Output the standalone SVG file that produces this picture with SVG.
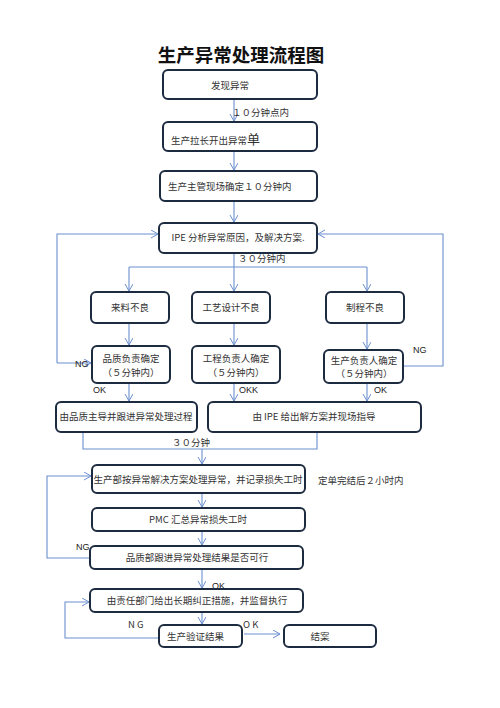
<svg xmlns="http://www.w3.org/2000/svg" width="500" height="708" viewBox="0 0 500 708">
<defs>
<marker id="ar" markerWidth="10" markerHeight="10" refX="7" refY="4" orient="auto" markerUnits="userSpaceOnUse">
<path d="M0,0 L7,4 L0,8" fill="none" stroke="#6b8fcf" stroke-width="1"/>
</marker>
<style>
.b{fill:#fff;stroke:#1d2b40;stroke-width:2}
.c{fill:none;stroke:#6b8fcf;stroke-width:1.1}
.a{marker-end:url(#ar)}
.t{font-family:"Noto Sans CJK SC","Liberation Sans",sans-serif;font-size:9.5px;fill:#333}
.m{text-anchor:middle}
.s{font-family:"Liberation Sans","Noto Sans CJK SC",sans-serif;font-size:9px;fill:#222}
</style>
</defs>
<rect width="500" height="708" fill="#fff"/>
<text x="241" y="62" font-family="Noto Sans CJK SC,sans-serif" font-size="18.5" font-weight="bold" fill="#111" text-anchor="middle">生产异常处理流程图</text>

<g id="connectors">
<path class="c a" d="M234,99 V121"/>
<path class="c a" d="M234,151 V170"/>
<path class="c a" d="M234,201 V222"/>
<path class="c a" d="M57,363 V234 H158"/>
<path class="c a" d="M403,366 H443 V234 H318"/>
<path class="c" d="M234,253 V267"/>
<path class="c" d="M129,267 H367"/>
<path class="c a" d="M129,267 V291"/>
<path class="c a" d="M234,267 V291"/>
<path class="c a" d="M367,267 V291"/>
<path class="c a" d="M129,323 V345"/>
<path class="c a" d="M234,323 V345"/>
<path class="c a" d="M367,323 V349"/>
<path class="c a" d="M57,363 H91"/>
<path class="c a" d="M129,383 V401"/>
<path class="c a" d="M234,383 V401"/>
<path class="c a" d="M367,383 V401"/>
<path class="c" d="M83,432 V449 H317 V432"/>
<path class="c a" d="M202,449 V464"/>
<path class="c a" d="M90,558 H47 V476 H91"/>
<path class="c a" d="M202,493 V507"/>
<path class="c a" d="M202,531 V545"/>
<path class="c a" d="M202,569 V588"/>
<path class="c a" d="M202,612 V624"/>
<path class="c a" d="M159,638 H65 V602 H89"/>
<path class="c a" d="M244,634 H280"/>
</g>

<g id="labels">
<text class="t" x="232" y="116" font-size="9">１０分钟点内</text>
<text class="t" x="238" y="262" font-size="9">３０分钟内</text>
<text class="s" x="75" y="367">NG</text>
<text class="s" x="413" y="353">NG</text>
<text class="s" x="93" y="393">OK</text>
<text class="s" x="239" y="393">OKK</text>
<text class="s" x="374" y="393">OK</text>
<text class="t" x="172" y="446" font-size="9">３０分钟</text>
<text class="t" x="318" y="484" font-size="9">定单完结后２小时内</text>
<text class="s" x="76" y="550">NG</text>
<text class="s" x="212" y="589">OK</text>
<text class="t" x="128" y="628">N G</text>
<text class="t" x="243" y="628">O K</text>
</g>

<g id="n1"><rect class="b" x="163" y="70" width="154" height="29" rx="5"/><text class="t" x="211" y="89">发现异常</text></g>
<g id="n2"><rect class="b" x="163" y="122" width="154" height="29" rx="5"/><text class="t" x="171" y="144">生产拉长开出异常<tspan font-size="13">单</tspan></text></g>
<g id="n3"><rect class="b" x="160" y="171" width="157" height="30" rx="5"/><text class="t" x="168" y="190">生产主管现场确定１０分钟内</text></g>
<g id="n4"><rect class="b" x="159" y="223" width="158" height="30" rx="5"/><text class="t m" x="238" y="241" font-size="9">IPE 分析异常原因，及解决方案.</text></g>
<g id="n5"><rect class="b" x="91" y="292" width="78" height="31" rx="5"/><text class="t m" x="130" y="311" font-size="9">来料不良</text></g>
<g id="n6"><rect class="b" x="192" y="292" width="78" height="31" rx="5"/><text class="t m" x="231" y="311" font-size="9">工艺设计不良</text></g>
<g id="n7"><rect class="b" x="326" y="292" width="78" height="31" rx="5"/><text class="t m" x="365" y="311" font-size="9">制程不良</text></g>
<g id="n8"><rect class="b" x="92" y="346" width="78" height="37" rx="5"/><text class="t m" x="131" y="362" font-size="9">品质负责确定</text><text class="t m" x="131" y="376" font-size="9">（５分钟内）</text></g>
<g id="n9"><rect class="b" x="192" y="346" width="88" height="37" rx="5"/><text class="t m" x="236" y="362" font-size="9">工程负责人确定</text><text class="t m" x="236" y="376" font-size="9">（５分钟内）</text></g>
<g id="n10"><rect class="b" x="324" y="350" width="79" height="33" rx="5"/><text class="t m" x="364" y="364" font-size="9">生产负责人确定</text><text class="t m" x="364" y="377" font-size="9">（５分钟内）</text></g>
<g id="n11"><rect class="b" x="56" y="402" width="141" height="30" rx="5"/><text class="t m" x="126" y="420" font-size="9">由品质主导并跟进异常处理过程</text></g>
<g id="n12"><rect class="b" x="208" y="402" width="213" height="30" rx="5"/><text class="t m" x="314" y="420" font-size="9">由 IPE 给出解方案并现场指导</text></g>
<g id="n13"><rect class="b" x="92" y="465" width="213" height="28" rx="5"/><text class="t m" x="198" y="483" font-size="9">生产部按异常解决方案处理异常，并记录损失工时</text></g>
<g id="n14"><rect class="b" x="92" y="508" width="213" height="23" rx="5"/><text class="t m" x="198" y="523" font-size="9">PMC 汇总异常损失工时</text></g>
<g id="n15"><rect class="b" x="90" y="546" width="213" height="23" rx="5"/><text class="t m" x="197" y="561" font-size="9">品质部跟进异常处理结果是否可行</text></g>
<g id="n16"><rect class="b" x="90" y="589" width="213" height="23" rx="5"/><text class="t m" x="197" y="604" font-size="9">由责任部门给出长期纠正措施，并监督执行</text></g>
<g id="n17"><rect class="b" x="159" y="625" width="83" height="22" rx="5"/><text class="t" x="167" y="640" font-size="9">生产验证结果</text></g>
<g id="n18"><rect class="b" x="284" y="625" width="92" height="22" rx="5"/><text class="t m" x="320" y="640" font-size="9">结案</text></g>
</svg>
